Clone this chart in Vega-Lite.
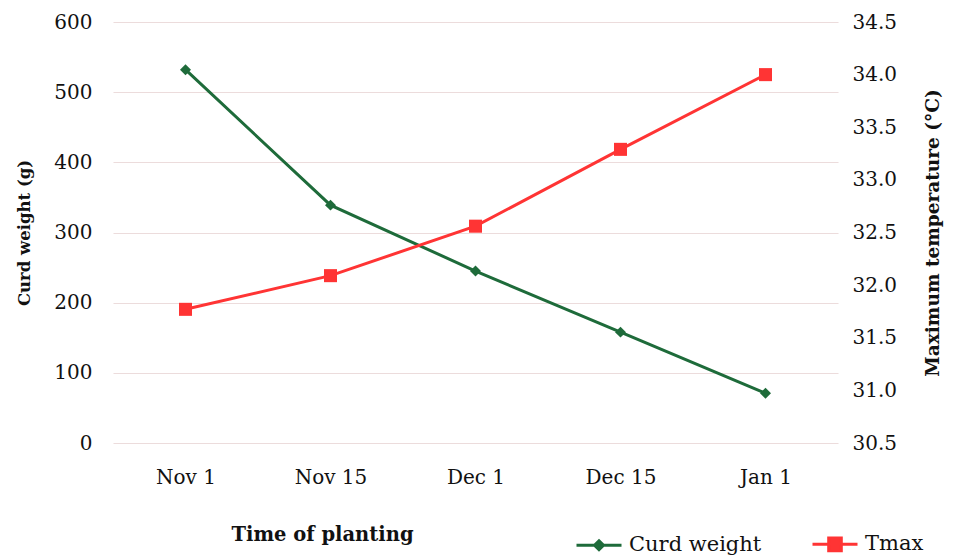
{
  "$schema": "https://vega.github.io/schema/vega-lite/v6.json",
  "width": 725,
  "height": 421,
  "autosize": "none",
  "padding": {"left": 113, "top": 22, "right": 119, "bottom": 114},
  "background": "white",
  "config": {
    "font": "DejaVu Serif",
    "view": {"stroke": null},
    "axis": {
      "domain": false,
      "ticks": false,
      "labelFont": "DejaVu Serif",
      "labelFontSize": 20,
      "labelColor": "#111",
      "titleFont": "DejaVu Serif",
      "titleFontSize": 18,
      "titleFontWeight": "bold",
      "titleColor": "#111",
      "gridColor": "#ecdcdc",
      "gridWidth": 1.2
    }
  },
  "data": {
    "values": [
      {"date": "Nov 1", "curd": 532, "tmax": 31.77},
      {"date": "Nov 15", "curd": 339, "tmax": 32.09},
      {"date": "Dec 1", "curd": 245, "tmax": 32.56},
      {"date": "Dec 15", "curd": 158, "tmax": 33.29},
      {"date": "Jan 1", "curd": 71, "tmax": 34.0}
    ]
  },
  "encoding": {
    "x": {
      "field": "date",
      "type": "ordinal",
      "sort": null,
      "scale": {"type": "point", "padding": 0.5},
      "axis": {
        "title": "Time of planting",
        "labelAngle": 0,
        "labelPadding": 24,
        "grid": false,
        "titleFontSize": 19.5,
        "titleX": 209,
        "titleY": 91,
        "titleAnchor": "middle",
        "titleBaseline": "middle"
      }
    }
  },
  "layer": [
    {
      "encoding": {
        "y": {
          "field": "curd",
          "type": "quantitative",
          "scale": {"domain": [0, 600]},
          "axis": {
            "title": "Curd weight (g)",
            "values": [0, 100, 200, 300, 400, 500, 600],
            "labelPadding": 21,
            "titlePadding": 21,
            "titleFontSize": 16.5,
            "grid": true
          }
        },
        "color": {
          "datum": "Curd weight",
          "scale": {"domain": ["Curd weight", "Tmax"], "range": ["#1e6b3a", "#ff3434"]},
          "legend": {
            "title": null,
            "orient": "none",
            "legendX": 462,
            "legendY": 498,
            "direction": "horizontal",
            "labelFont": "DejaVu Serif",
            "labelFontSize": 21,
            "labelColor": "#111",
            "symbolSize": 2025,
            "symbolStrokeWidth": 3,
            "labelOffset": 6,
            "columnPadding": 44,
            "encode": {
              "symbols": {
                "update": {
                  "shape": {"signal": "datum.value === 'Curd weight' ? 'M-1,0L1,0M0,-0.2L0.2,0L0,0.2L-0.2,0Z' : 'M-1,0L1,0M-0.28,-0.28L0.28,-0.28L0.28,0.28L-0.28,0.28Z'"},
                  "fill": {"signal": "datum.value === 'Curd weight' ? '#1e6b3a' : '#ff3434'"},
                  "stroke": {"signal": "datum.value === 'Curd weight' ? '#1e6b3a' : '#ff3434'"},
                  "strokeWidth": {"value": 3},
                  "opacity": {"value": 1}
                }
              }
            }
          }
        }
      },
      "layer": [
        {"mark": {"type": "line", "strokeWidth": 3}},
        {"mark": {"type": "point", "shape": "diamond", "filled": true, "size": 120, "opacity": 1}}
      ]
    },
    {
      "encoding": {
        "y": {
          "field": "tmax",
          "type": "quantitative",
          "scale": {"domain": [30.5, 34.5], "zero": false},
          "axis": {
            "orient": "right",
            "title": "Maximum temperature (°C)",
            "values": [30.5, 31, 31.5, 32, 32.5, 33, 33.5, 34, 34.5],
            "format": ".1f",
            "labelPadding": 14,
            "titlePadding": 46,
            "titleFontSize": 18.5,
            "titleAngle": -90,
            "grid": false
          }
        },
        "color": {"datum": "Tmax"}
      },
      "layer": [
        {"mark": {"type": "line", "strokeWidth": 3}},
        {"mark": {"type": "point", "shape": "square", "filled": true, "size": 170, "opacity": 1}}
      ]
    }
  ],
  "resolve": {"scale": {"y": "independent"}}
}
